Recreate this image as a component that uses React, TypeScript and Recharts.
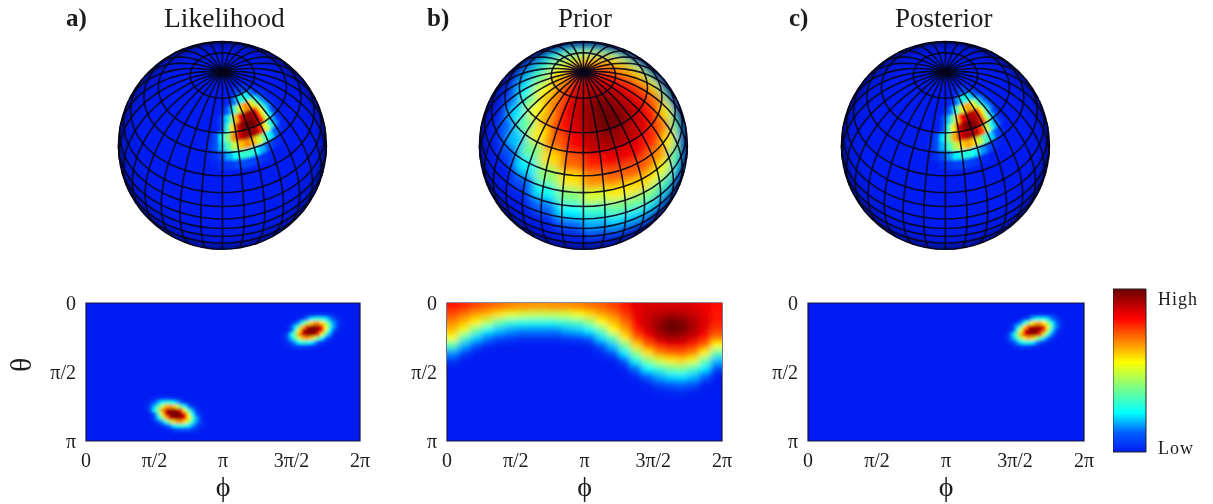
import { ScatterChart, Scatter, BarChart, Bar, XAxis, YAxis, ReferenceArea } from 'recharts'

// ── Values (0 = low, 100 = high) ───────────────────────────

const PHI_TICKS = [0, 90, 180, 270, 360]
const PHI_LABELS = ['0', 'π/2', 'π', '3π/2', '2π']
const THETA_TICKS = [0, 90, 180]
const THETA_LABELS = ['0', 'π/2', 'π']

// rows run over theta, columns over phi, cell size 5 degrees
const LIKELIHOOD_UPPER = { phi0: 260, theta0: 16, rows: [
  [0, 0, 0, 0, 0, 0, 2, 4, 6, 8, 8, 7, 5, 3, 1, 0, 0],
  [0, 0, 0, 0, 3, 8, 14, 22, 28, 30, 29, 23, 16, 9, 4, 1, 0],
  [0, 0, 2, 7, 16, 28, 44, 58, 67, 67, 58, 44, 28, 16, 7, 2, 0],
  [0, 2, 8, 21, 38, 62, 85, 93, 95, 93, 82, 56, 34, 18, 6, 1, 0],
  [0, 1, 8, 32, 58, 87, 97, 100, 99, 94, 79, 50, 24, 10, 3, 1, 0],
  [2, 9, 24, 42, 67, 88, 94, 95, 92, 78, 52, 30, 16, 4, 1, 0, 0],
  [3, 9, 20, 34, 48, 62, 67, 63, 50, 36, 23, 12, 4, 1, 0, 0, 0],
  [1, 4, 9, 18, 25, 30, 30, 25, 18, 10, 4, 2, 0, 0, 0, 0, 0],
  [0, 1, 3, 5, 7, 8, 7, 5, 3, 1, 0, 0, 0, 0, 0, 0, 0],
] }

const LIKELIHOOD_LOWER = { phi0: 80, theta0: 125, rows: [
  [0, 1, 3, 5, 7, 8, 7, 5, 3, 1, 0, 0, 0, 0, 0, 0, 0],
  [1, 4, 9, 18, 25, 30, 30, 25, 18, 10, 4, 2, 0, 0, 0, 0, 0],
  [3, 9, 20, 34, 48, 62, 67, 63, 50, 36, 23, 12, 4, 1, 0, 0, 0],
  [2, 9, 24, 42, 67, 88, 94, 95, 92, 78, 52, 30, 16, 4, 1, 0, 0],
  [0, 1, 8, 32, 58, 87, 97, 100, 99, 94, 79, 50, 24, 10, 3, 1, 0],
  [0, 2, 8, 21, 38, 62, 85, 93, 95, 93, 82, 56, 34, 18, 6, 1, 0],
  [0, 0, 2, 7, 16, 28, 44, 58, 67, 67, 58, 44, 28, 16, 7, 2, 0],
  [0, 0, 0, 0, 3, 8, 14, 22, 28, 30, 29, 23, 16, 9, 4, 1, 0],
  [0, 0, 0, 0, 0, 0, 2, 4, 6, 8, 8, 7, 5, 3, 1, 0, 0],
] }

const POSTERIOR_PEAK = { phi0: 258, theta0: 16, rows: [
  [0, 0, 0, 0, 0, 0, 1, 3, 5, 7, 7, 6, 4, 2, 0, 0, 0],
  [0, 0, 0, 0, 2, 7, 12, 20, 26, 28, 27, 21, 14, 8, 3, 0, 0],
  [0, 0, 1, 6, 14, 26, 42, 56, 64, 64, 55, 41, 26, 14, 6, 1, 0],
  [0, 1, 7, 19, 36, 60, 82, 90, 93, 90, 78, 53, 32, 16, 5, 0, 0],
  [0, 1, 7, 30, 56, 84, 95, 100, 98, 91, 75, 47, 22, 9, 2, 0, 0],
  [1, 8, 22, 40, 64, 85, 92, 93, 89, 75, 49, 28, 14, 3, 0, 0, 0],
  [2, 8, 18, 32, 45, 59, 64, 60, 47, 33, 21, 10, 3, 0, 0, 0, 0],
  [0, 3, 8, 16, 23, 28, 28, 23, 16, 9, 3, 1, 0, 0, 0, 0, 0],
  [0, 0, 2, 4, 6, 7, 6, 4, 2, 0, 0, 0, 0, 0, 0, 0, 0],
] }

// one list per phi column (15 degrees wide), values every 10 degrees of theta from 5
const PRIOR_BY_PHI = [
  [80, 74, 68, 62, 54, 34, 16, 4],
  [78, 70, 62, 53, 34, 18, 6],
  [75, 65, 56, 38, 21, 9],
  [72, 62, 47, 26, 14, 2],
  [70, 58, 36, 20, 9],
  [68, 52, 30, 17, 6],
  [67, 50, 28, 15, 4],
  [66, 48, 27, 15, 4],
  [66, 48, 27, 15, 4],
  [67, 48, 28, 15, 4],
  [67, 50, 31, 18, 6],
  [68, 54, 34, 20, 7],
  [70, 59, 42, 25, 12, 1],
  [72, 64, 55, 37, 22, 11, 2],
  [75, 69, 62, 55, 36, 20, 9],
  [80, 76, 71, 65, 57, 38, 23, 10, 1],
  [85, 85, 83, 80, 72, 59, 42, 26, 13, 2],
  [87, 88, 89, 87, 82, 72, 58, 40, 24, 12, 2],
  [87, 91, 95, 95, 90, 80, 68, 50, 31, 18, 8, 1],
  [87, 93, 100, 100, 94, 84, 72, 57, 38, 22, 12, 2],
  [87, 92, 98, 99, 92, 84, 73, 59, 40, 23, 13, 3],
  [86, 89, 92, 92, 87, 79, 68, 53, 33, 20, 10, 1],
  [84, 85, 86, 85, 80, 72, 56, 36, 23, 12, 1],
  [81, 80, 79, 76, 70, 55, 35, 19, 7],
]

// colour scale of the bar on the right
const SCALE_VALUES = [0, 12, 24, 40, 55, 82, 100]
const SCALE_COLORS = ['#001cf2', '#0060ff', '#00ffff', '#80ff80', '#ffff00', '#ff0000', '#6c0000']
const SCALE_BAR = [{ name: 'scale', value: 100 }]
const SCALE_TICKS = [3, 94]
const SCALE_LABELS = ['Low', 'High']

// graticule drawn on the globes, degrees
const RING_COLATITUDES = [18, 38, 49, 62, 72, 81, 90, 98, 106, 115]
const MERIDIAN_LONGITUDES = [6, 18, 30, 42, 54, 66, 78, 90, 102, 114, 126, 138, 150, 162, 174,
  186, 198, 210, 222, 234, 246, 258, 270, 282, 294, 306, 318, 330, 342, 354]

// ── Helpers ────────────────────────────────────────────────

const SERIF = '"Liberation Serif", "Times New Roman", serif'
const INK = '#1c1c1c'
const BASE_BLUE = '#001cf2'
const GRID_INK = '#05051a'

type Cell = { phi: number; theta: number; value: number; dPhi: number; dTheta: number }
type Patch = { phi0: number; theta0: number; rows: number[][] }

function colorOf(v: number) {
  let i = 0
  while (i < SCALE_VALUES.length - 2 && v > SCALE_VALUES[i + 1]) i++
  const t = (v - SCALE_VALUES[i]) / (SCALE_VALUES[i + 1] - SCALE_VALUES[i])
  const a = SCALE_COLORS[i], b = SCALE_COLORS[i + 1]
  const ch = (k: number) => {
    const p = parseInt(a.slice(k, k + 2), 16), q = parseInt(b.slice(k, k + 2), 16)
    return Math.round(p + (q - p) * t)
  }
  return `rgb(${ch(1)},${ch(3)},${ch(5)})`
}

function patchCells(patch: Patch): Cell[] {
  const out: Cell[] = []
  patch.rows.forEach((row, r) => row.forEach((value, c) => {
    if (value > 0) out.push({ phi: patch.phi0 + c * 5, theta: patch.theta0 + r * 5, value, dPhi: 5, dTheta: 5 })
  }))
  return out
}

function priorCells(): Cell[] {
  const out: Cell[] = []
  PRIOR_BY_PHI.forEach((col, c) => col.forEach((value, r) => {
    out.push({ phi: 7.5 + c * 15, theta: 5 + r * 10, value, dPhi: 15, dTheta: 10 })
  }))
  return out
}

const LIKELIHOOD_CELLS = [...patchCells(LIKELIHOOD_UPPER), ...patchCells(LIKELIHOOD_LOWER)]
const POSTERIOR_CELLS = patchCells(POSTERIOR_PEAK)
const PRIOR_CELLS = priorCells()

// ── Map panel ──────────────────────────────────────────────

const AXIS_W = 86
const PLOT_TOP = 303
const PLOT_H = 138

function MapPanel({ left, plotW, cells, blur, showTheta }: {
  left: number; plotW: number; cells: Cell[]; blur: string; showTheta?: boolean
}) {
  const pxX = plotW / 360
  const pxY = PLOT_H / 180
  const HeatCell = (p: any) => {
    const d: Cell = p.payload
    let x = p.cx - (d.dPhi * pxX) / 2, y = p.cy - (d.dTheta * pxY) / 2
    let w = d.dPhi * pxX + 1, h = d.dTheta * pxY + 1
    if (d.theta - d.dTheta / 2 <= 0) { y -= 14; h += 14 }
    if (d.phi - d.dPhi / 2 <= 0) { x -= 14; w += 14 }
    if (d.phi + d.dPhi / 2 >= 360) { w += 14 }
    return <rect x={x} y={y} width={w} height={h} fill={colorOf(d.value)} />
  }
  const tick = { fontFamily: SERIF, fontSize: 20, fill: INK }
  return (
    <div style={{ position: 'absolute', left: left - AXIS_W, top: PLOT_TOP - 12 }}>
      <ScatterChart width={AXIS_W + plotW + 20} height={213} margin={{ top: 12, right: 20, bottom: 0, left: 0 }}>
        <XAxis
          type="number" dataKey="phi" domain={[0, 360]} ticks={PHI_TICKS} interval={0} allowDataOverflow
          tickFormatter={(v: number) => PHI_LABELS[PHI_TICKS.indexOf(v)]}
          height={63} tick={tick} tickLine={false} axisLine={false} tickMargin={6}
          label={{ value: 'ϕ', position: 'insideBottom', offset: 8, style: { fontFamily: SERIF, fontSize: 28, fill: INK } }}
        />
        <YAxis
          type="number" dataKey="theta" domain={[0, 180]} reversed ticks={THETA_TICKS} interval={0} allowDataOverflow
          tickFormatter={(v: number) => THETA_LABELS[THETA_TICKS.indexOf(v)]}
          width={AXIS_W} tick={tick} tickLine={false} axisLine={false} tickMargin={4}
          label={showTheta ? { value: 'θ', angle: -90, position: 'insideLeft', offset: 20, style: { fontFamily: SERIF, fontSize: 30, fill: INK } } : undefined}
        />
        <ReferenceArea x1={0} x2={360} y1={0} y2={180} fill={BASE_BLUE} fillOpacity={1} stroke="none" />
        <Scatter data={cells} className={blur} shape={HeatCell} isAnimationActive={false} />
        <ReferenceArea x1={0} x2={360} y1={0} y2={180} fill="none" stroke="#14143c" strokeWidth={1.2} />
      </ScatterChart>
    </div>
  )
}

// ── Globe panel ────────────────────────────────────────────

const R = 104
const GLOBE_SIZE = 2.2 * R
const TILT = Math.PI / 4
const FRONT_PHI = 270
const rad = (d: number) => (d * Math.PI) / 180

function project(theta: number, phi: number) {
  const c = rad(theta), l = rad(phi - FRONT_PHI)
  return {
    x: Math.sin(c) * Math.sin(l),
    y: Math.cos(c) * Math.cos(TILT) - Math.sin(c) * Math.cos(l) * Math.sin(TILT),
    z: Math.sin(c) * Math.cos(l) * Math.cos(TILT) + Math.cos(c) * Math.sin(TILT),
  }
}

const COLAT_STEPS = Array.from({ length: 37 }, (_, i) => i * 5)
const LON_STEPS = Array.from({ length: 61 }, (_, i) => FRONT_PHI - 180 + i * 6)
const MERIDIANS = MERIDIAN_LONGITUDES.map(phi =>
  COLAT_STEPS.map(c => project(c, phi)).filter(p => p.z >= -0.01))
const RINGS = RING_COLATITUDES.map(c =>
  LON_STEPS.map(phi => project(c, phi)).filter(p => p.z >= -0.01))
const CENTRE = [{ x: 0, y: 0 }]

const NoDot = () => <g />

const Disk = (p: any) => <circle cx={p.cx} cy={p.cy} r={R} fill={BASE_BLUE} />
const Shade = (p: any) => <circle cx={p.cx} cy={p.cy} r={R} fill="url(#globeShade)" />
const Edge = (p: any) => <circle cx={p.cx} cy={p.cy} r={R} fill="none" stroke={GRID_INK} strokeWidth={1.4} />

const Face = (p: any) => {
  const d = p.payload
  const pts = d.poly.map((q: any) => `${p.cx + (q.x - d.x) * R},${p.cy - (q.y - d.y) * R}`).join(' ')
  return <polygon points={pts} fill={d.color} stroke={d.color} strokeWidth={0.8} />
}

function facesOf(cells: Cell[]) {
  return cells.map(c => {
    const mid = project(c.theta, c.phi)
    const t0 = c.theta - c.dTheta / 2, t1 = c.theta + c.dTheta / 2
    const p0 = c.phi - c.dPhi / 2, p1 = c.phi + c.dPhi / 2
    return {
      x: mid.x, y: mid.y, z: mid.z, color: colorOf(c.value),
      poly: [project(t0, p0), project(t0, p1), project(t1, p1), project(t1, p0)],
    }
  }).filter(f => f.z > -0.1)
}

function GlobePanel({ cx, cells, blur }: { cx: number; cells: Cell[]; blur: string }) {
  const faces = facesOf(cells)
  const line = { stroke: GRID_INK, strokeWidth: 1.6, strokeOpacity: 0.9 }
  return (
    <div style={{ position: 'absolute', left: cx - GLOBE_SIZE / 2, top: 145 - GLOBE_SIZE / 2 }}>
      <ScatterChart width={GLOBE_SIZE} height={GLOBE_SIZE} margin={{ top: 0, right: 0, bottom: 0, left: 0 }}>
        <XAxis type="number" dataKey="x" domain={[-1.1, 1.1]} hide allowDataOverflow />
        <YAxis type="number" dataKey="y" domain={[-1.1, 1.1]} hide allowDataOverflow />
        <Scatter data={CENTRE} shape={Disk} isAnimationActive={false} />
        <Scatter data={faces} className={blur} shape={Face} isAnimationActive={false} />
        <Scatter data={CENTRE} shape={Shade} isAnimationActive={false} />
        {MERIDIANS.map((m, i) => (
          <Scatter key={`m${i}`} data={m} line={line} lineType="joint" shape={NoDot} isAnimationActive={false} />
        ))}
        {RINGS.map((m, i) => (
          <Scatter key={`r${i}`} data={m} line={line} lineType="joint" shape={NoDot} isAnimationActive={false} />
        ))}
        <Scatter data={CENTRE} shape={Edge} isAnimationActive={false} />
      </ScatterChart>
    </div>
  )
}

// ── Colour bar ─────────────────────────────────────────────

function ScaleBar() {
  return (
    <div style={{ position: 'absolute', left: 1113, top: 277 }}>
      <BarChart width={100} height={187} data={SCALE_BAR} barCategoryGap={0} margin={{ top: 12, right: 0, bottom: 12, left: 0 }}>
        <XAxis dataKey="name" hide />
        <YAxis
          orientation="right" type="number" domain={[0, 100]} ticks={SCALE_TICKS} interval={0} width={67}
          tickFormatter={(v: number) => SCALE_LABELS[SCALE_TICKS.indexOf(v)]}
          tick={{ fontFamily: SERIF, fontSize: 18, fill: INK, letterSpacing: 1 }}
          tickLine={false} axisLine={false} tickMargin={6}
        />
        <Bar dataKey="value" fill="url(#scaleGrad)" stroke="#222" strokeWidth={1} isAnimationActive={false} />
      </BarChart>
    </div>
  )
}

// ── Page ───────────────────────────────────────────────────

const label = (left: number, text: string, bold: boolean, size: number) => (
  <div style={{
    position: 'absolute', left, top: 2, fontFamily: SERIF, fontSize: size,
    fontWeight: bold ? 700 : 400, color: INK, lineHeight: '32px', whiteSpace: 'nowrap',
  }}>{text}</div>
)

const CSS = `
.recharts-scatter.blurA{filter:url(#blurTight);clip-path:url(#mapClipA)}
.recharts-scatter.blurB{filter:url(#blurWide);clip-path:url(#mapClipB)}
.recharts-scatter.blurC{filter:url(#blurTight);clip-path:url(#mapClipC)}
.recharts-scatter.blurGlobe{filter:url(#blurTight);clip-path:url(#globeClip)}
.recharts-scatter.blurGlobeWide{filter:url(#blurGlobe);clip-path:url(#globeClip)}
`

export default function App() {
  return (
    <div style={{ position: 'absolute', left: 0, top: 0, width: 1213, height: 504, background: '#fff', overflow: 'hidden', filter: 'blur(0.5px)' }}>
      <style>{CSS}</style>
      <svg width={0} height={0} style={{ position: 'absolute' }}>
        <defs>
          <filter id="blurTight" x="-30%" y="-30%" width="160%" height="160%"><feGaussianBlur stdDeviation={1.8} /></filter>
          <filter id="blurWide" x="-10%" y="-30%" width="120%" height="160%"><feGaussianBlur stdDeviation={3.2} /></filter>
          <filter id="blurGlobe" x="-10%" y="-10%" width="120%" height="120%"><feGaussianBlur stdDeviation={4} /></filter>
          <clipPath id="mapClipA"><rect x={AXIS_W} y={12} width={274} height={PLOT_H} /></clipPath>
          <clipPath id="mapClipB"><rect x={AXIS_W} y={12} width={275} height={PLOT_H} /></clipPath>
          <clipPath id="mapClipC"><rect x={AXIS_W} y={12} width={276} height={PLOT_H} /></clipPath>
          <clipPath id="globeClip"><circle cx={GLOBE_SIZE / 2} cy={GLOBE_SIZE / 2} r={R} /></clipPath>
          <radialGradient id="globeShade">
            <stop offset="78%" stopColor="#000018" stopOpacity={0} />
            <stop offset="92%" stopColor="#000018" stopOpacity={0.12} />
            <stop offset="100%" stopColor="#000018" stopOpacity={0.48} />
          </radialGradient>
          <linearGradient id="scaleGrad" x1="0" y1="1" x2="0" y2="0">
            {SCALE_VALUES.map((v, i) => <stop key={v} offset={`${v}%`} stopColor={SCALE_COLORS[i]} />)}
          </linearGradient>
        </defs>
      </svg>

      {label(66, 'a)', true, 25)}
      {label(427, 'b)', true, 25)}
      {label(789, 'c)', true, 25)}
      {label(164, 'Likelihood', false, 27.5)}
      {label(558, 'Prior', false, 27)}
      {label(895, 'Posterior', false, 27)}

      <GlobePanel cx={222} cells={LIKELIHOOD_CELLS} blur="blurGlobe" />
      <GlobePanel cx={583} cells={PRIOR_CELLS} blur="blurGlobeWide" />
      <GlobePanel cx={945} cells={POSTERIOR_CELLS} blur="blurGlobe" />

      <MapPanel left={86} plotW={274} cells={LIKELIHOOD_CELLS} blur="blurA" showTheta />
      <MapPanel left={447} plotW={275} cells={PRIOR_CELLS} blur="blurB" />
      <MapPanel left={808} plotW={276} cells={POSTERIOR_CELLS} blur="blurC" />

      <ScaleBar />
    </div>
  )
}
